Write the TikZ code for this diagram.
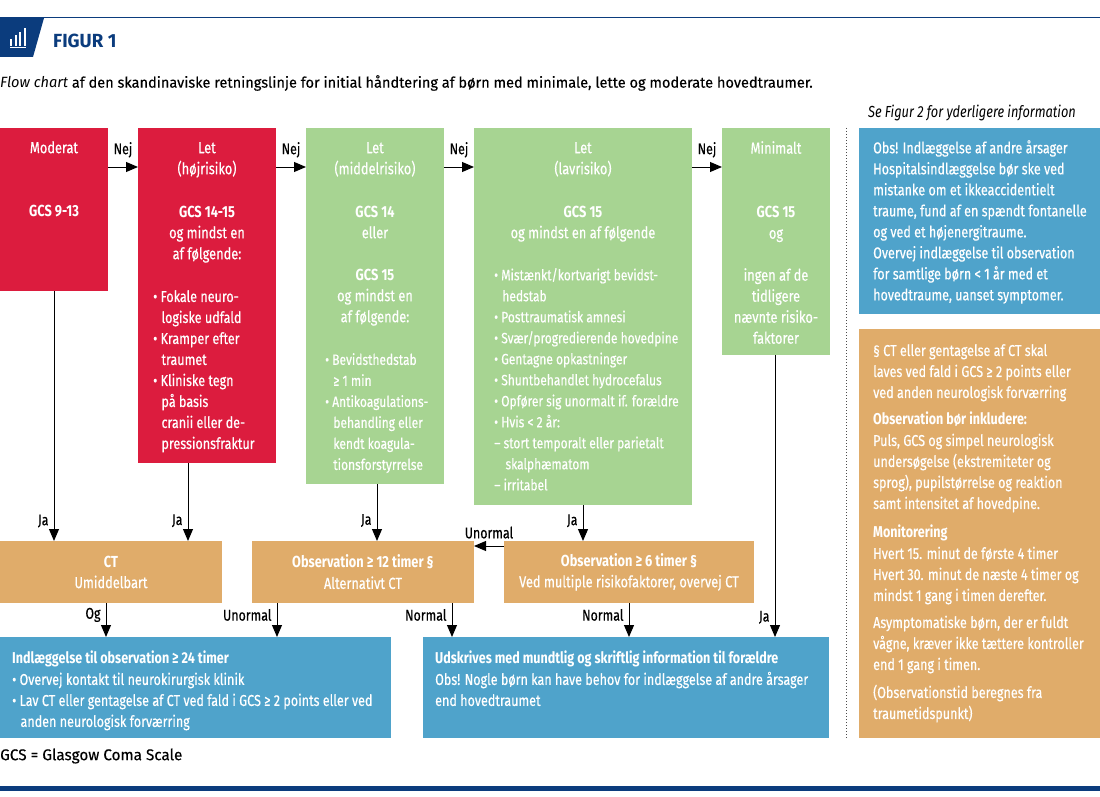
\documentclass[tikz,border=0pt]{standalone}
\usepackage{fontspec}
\setmainfont{Fira Sans}[FakeStretch=0.8, UprightFeatures={FakeBold=0.4}]
\newfontfamily\captionfont{Fira Sans}[FakeStretch=0.98, UprightFeatures={FakeBold=0.3}]
\usetikzlibrary{arrows.meta, positioning, calc}
\definecolor{navy}{HTML}{0B3C7D}
\definecolor{redbox}{HTML}{DC1C3E}
\definecolor{greenbox}{HTML}{A7D492}
\definecolor{orangebox}{HTML}{E0AC6A}
\definecolor{bluebox}{HTML}{4FA3CB}
\tikzset{
  box/.style={inner sep=0pt, outer sep=0pt, anchor=north west, text=white, align=center, font=\fontsize{16}{21}\selectfont},
  red/.style={box, fill=redbox},
  green/.style={box, fill=greenbox},
  orange/.style={box, fill=orangebox},
  blue/.style={box, fill=bluebox},
  head/.style={inner sep=0pt, anchor=north, text=white, align=center, font=\fontsize{16}{21}\selectfont},
  list/.style={inner sep=0pt, anchor=north west, text=white, align=left, font=\fontsize{15.7}{21}\selectfont},
  smalllist/.style={list, font=\fontsize{15}{21}\selectfont},
  arrow/.style={-{Triangle[length=12pt, width=10pt]}, line width=1pt, black},
  edgelabel/.style={inner sep=0pt, font=\fontsize{15.5}{16}\selectfont},
  note/.style={inner sep=0pt, anchor=west}
}
\newcommand{\ind}{\hspace*{5pt}}
\begin{document}
\begin{tikzpicture}[x=1pt, y=-1pt]
    \useasboundingbox (0,0) rectangle (1100,797);
    % header
    \fill[navy] (0,18) -- (44,18) -- (33,57) -- (0,57) -- cycle;
    \draw[navy, line width=1pt] (0,18) -- (1100,18);
    \fill[white] (9.5,47) rectangle (26,48.5);
    \fill[white] (10,39) rectangle (12,46);
    \fill[white] (14.5,35) rectangle (16.5,46);
    \fill[white] (19,32) rectangle (21,46);
    \fill[white] (23.5,28) rectangle (25.5,46);
    \node[note, text=navy, font=\captionfont\bfseries\fontsize{19}{22}\selectfont] (title) at (53,41) {FIGUR 1};
    \node[note, font=\captionfont\fontsize{14.85}{16}\selectfont] (caption) at (0,83) {\textit{Flow chart} af den skandinaviske retningslinje for initial håndtering af børn med minimale, lette og moderate hovedtraumer.};
    \node[inner sep=0pt, font=\itshape\fontsize{16}{18}\selectfont] (seefig) at (972,113) {Se Figur 2 for yderligere information};

    % severity columns
    \node[red, minimum width=108pt, minimum height=163pt] (moderat) at (0,128) {};
    \node[red, minimum width=138pt, minimum height=335pt] (lethoj) at (138,128) {};
    \node[green, minimum width=138pt, minimum height=356pt] (letmid) at (306,128) {};
    \node[green, minimum width=218pt, minimum height=377pt] (letlav) at (474,128) {};
    \node[green, minimum width=108pt, minimum height=227pt] (minimalt) at (722,128) {};

    \node[head] (moderathead) at (54,141) {Moderat\\[42pt]\textbf{GCS 9-13}};
    \node[head] (lethojhead) at (207,142) {Let\\(højrisiko)\\[22pt]\textbf{GCS 14-15}\\og mindst en\\af følgende:};
    \node[list] (lethojlist) at (153,290) {• Fokale neuro-\\\ind\ logiske udfald\\• Kramper efter\\\ind\ traumet\\• Kliniske tegn\\\ind\ på basis\\\ind\ cranii eller de-\\\ind\ pressionsfraktur};
    \node[head] (letmidhead) at (375,142) {Let\\(middelrisiko)\\[22pt]\textbf{GCS 14}\\eller\\[21pt]\textbf{GCS 15}\\og mindst en\\af følgende:};
    \node[smalllist] (letmidlist) at (325,353) {• Bevidsthedstab\\\ind\ ≥ 1 min\\• Antikoagulations-\\\ind\ behandling eller\\\ind\ kendt koagula-\\\ind\ tionsforstyrrelse};
    \node[head] (letlavhead) at (583,142) {Let\\(lavrisiko)\\[22pt]\textbf{GCS 15}\\og mindst en af følgende};
    \node[smalllist] (letlavlist) at (494,268) {• Mistænkt/kortvarigt bevidst-\\\ind\ hedstab\\• Posttraumatisk amnesi\\• Svær/progredierende hovedpine\\• Gentagne opkastninger\\• Shuntbehandlet hydrocefalus\\• Opfører sig unormalt if. forældre\\• Hvis < 2 år:\\– stort temporalt eller parietalt\\\ind\ \ skalphæmatom\\– irritabel};
    \node[head] (minimalthead) at (776,141) {Minimalt\\[43pt]\textbf{GCS 15}\\og\\[21pt]ingen af de\\tidligere\\nævnte risiko-\\faktorer};

    % management row
    \node[orange, minimum width=222pt, minimum height=62pt] (ct) at (0,541) {\textbf{CT}\\Umiddelbart};
    \node[orange, minimum width=222pt, minimum height=62pt] (obsA) at (252,541) {\textbf{Observation ≥ 12 timer §}\\Alternativt CT};
    \node[orange, minimum width=250pt, minimum height=62pt] (obsB) at (504,541) {\textbf{Observation ≥ 6 timer §}\\Ved multiple risikofaktorer, overvej CT};

    % outcomes
    \node[blue, minimum width=391pt, minimum height=101pt] (indl) at (0,637) {};
    \node[list] (indltext) at (12,651) {\textbf{Indlæggelse til observation ≥ 24 timer}\\• Overvej kontakt til neurokirurgisk klinik\\• Lav CT eller gentagelse af CT ved fald i GCS ≥ 2 points eller ved\\\ind\ anden neurologisk forværring};
    \node[blue, minimum width=406pt, minimum height=101pt] (udskr) at (423,637) {};
    \node[list] (udskrtext) at (435,651) {\textbf{Udskrives med mundtlig og skriftlig information til forældre}\\Obs! Nogle børn kan have behov for indlæggelse af andre årsager\\end hovedtraumet};

    % side column
    \draw[dotted, line width=1pt, black!70] (846,128) -- (846,738);
    \node[blue, minimum width=241pt, minimum height=186pt] (sideblue) at (859,128) {};
    \node[list] (sidebluetext) at (873,140) {Obs! Indlæggelse af andre årsager\\Hospitalsindlæggelse bør ske ved\\mistanke om et ikkeaccidentielt\\traume, fund af en spændt fontanelle\\og ved et højenergitraume.\\Overvej indlæggelse til observation\\for samtlige børn < 1 år med et\\hovedtraume, uanset symptomer.};
    \node[orange, minimum width=241pt, minimum height=409pt] (sideorange) at (859,329) {};
    \node[list] (sideorangetext) at (873,344) {§ CT eller gentagelse af CT skal\\laves ved fald i GCS ≥ 2 points eller\\ved anden neurologisk forværring\\[6pt]\textbf{Observation bør inkludere:}\\Puls, GCS og simpel neurologisk\\undersøgelse (ekstremiteter og\\sprog), pupilstørrelse og reaktion\\samt intensitet af hovedpine.\\[8pt]\textbf{Monitorering}\\Hvert 15. minut de første 4 timer\\Hvert 30. minut de næste 4 timer og\\mindst 1 gang i timen derefter.\\[6pt]Asymptomatiske børn, der er fuldt\\vågne, kræver ikke tættere kontroller\\end 1 gang i timen.\\[7pt](Observationstid beregnes fra\\traumetidspunkt)};

    \node[note, font=\captionfont\fontsize{15.6}{16}\selectfont] (gcs) at (0,756) {GCS = Glasgow Coma Scale};
    \fill[navy] (0,786) rectangle (1100,791);

    \coordinate (nejrow) at (0,167);
    \draw[arrow] (moderat.east |- nejrow) -- node[edgelabel, above=9pt] (nejA) {Nej} (lethoj.west |- nejrow);
    \draw[arrow] (lethoj.east |- nejrow) -- node[edgelabel, above=9pt] (nejB) {Nej} (letmid.west |- nejrow);
    \draw[arrow] (letmid.east |- nejrow) -- node[edgelabel, above=9pt] (nejC) {Nej} (letlav.west |- nejrow);
    \draw[arrow] (letlav.east |- nejrow) -- node[edgelabel, above=9pt] (nejD) {Nej} (minimalt.west |- nejrow);

    \draw[arrow] (moderat.south) -- node[edgelabel, left=5pt, pos=0.92] (jaA) {Ja} (moderat.south |- ct.north);
    \draw[arrow] ([xshift=-19pt]lethoj.south) -- node[edgelabel, left=5pt, pos=0.74] (jaB) {Ja} ([xshift=-19pt]lethoj.south |- ct.north);
    \draw[arrow] ([xshift=2pt]letmid.south) -- node[edgelabel, left=5pt, pos=0.64] (jaC) {Ja} ([xshift=2pt]letmid.south |- obsA.north);
    \draw[arrow] (letlav.south) -- node[edgelabel, left=5pt, pos=0.44] (jaD) {Ja} (letlav.south |- obsB.north);
    \draw[arrow] ([xshift=-1pt]minimalt.south) -- node[edgelabel, left=5pt, pos=0.93] (jaE) {Ja} ([xshift=-1pt]minimalt.south |- udskr.north);

    \draw[arrow] ([yshift=26pt]obsB.west) -- node[edgelabel, above=7pt] (unormalA) {Unormal} ([yshift=26pt]obsA.east);

    \draw[arrow] ([xshift=-5pt]ct.south) -- node[edgelabel, left=5pt, pos=0.35] (og) {Og} ([xshift=-5pt]ct.south |- indl.north);
    \draw[arrow] ([xshift=-86pt]obsA.south) -- node[edgelabel, left=5pt, pos=0.35] (unormalB) {Unormal} ([xshift=-86pt]obsA.south |- indl.north);
    \draw[arrow] ([xshift=89pt]obsA.south) -- node[edgelabel, left=5pt, pos=0.35] (normalA) {Normal} ([xshift=89pt]obsA.south |- udskr.north);
    \draw[arrow] (obsB.south) -- node[edgelabel, left=5pt, pos=0.35] (normalB) {Normal} (obsB.south |- udskr.north);
\end{tikzpicture}
\end{document}
